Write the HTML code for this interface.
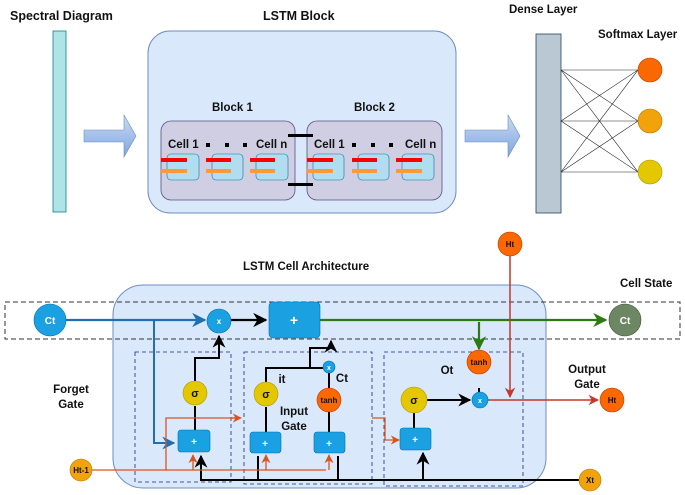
<!DOCTYPE html>
<html><head><style>body{margin:0;background:#fff}svg{display:block}text{font-family:"Liberation Sans",sans-serif;font-weight:bold;fill:#111}</style></head><body>
<svg width="685" height="495" viewBox="0 0 685 495" xmlns="http://www.w3.org/2000/svg">
<defs>
<linearGradient id="ag" x1="0" y1="0" x2="0" y2="1"><stop offset="0" stop-color="#c9daf2"/><stop offset="1" stop-color="#7ea6e0"/></linearGradient>
<marker id="mk" viewBox="0 0 10 10" refX="9" refY="5" markerWidth="6.5" markerHeight="6.5" orient="auto"><path d="M0,0L10,5L0,10L3,5z" fill="#000"/></marker>
<marker id="mb" viewBox="0 0 10 10" refX="9" refY="5" markerWidth="6.5" markerHeight="6.5" orient="auto"><path d="M0,0L10,5L0,10L3,5z" fill="#1f6fb2"/></marker>
<marker id="mr" viewBox="0 0 10 10" refX="9" refY="5" markerWidth="7" markerHeight="7" orient="auto"><path d="M0,0L10,5L0,10L3,5z" fill="#c0392b"/></marker>
<marker id="mo" viewBox="0 0 10 10" refX="9" refY="5" markerWidth="7" markerHeight="7" orient="auto"><path d="M0,0L10,5L0,10L3,5z" fill="#d9531e"/></marker>
<marker id="mg" viewBox="0 0 10 10" refX="9" refY="5" markerWidth="6.5" markerHeight="6.5" orient="auto"><path d="M0,0L10,5L0,10L3,5z" fill="#2d7a12"/></marker>
</defs>
<text x="10" y="20" font-size="12.5">Spectral Diagram</text>
<rect x="53" y="31" width="13" height="181" fill="#b0e3e6" stroke="#0e8088" stroke-width="0.8"/>
<path d="M84,130H124V115L136,136L124,157V142H84Z" fill="url(#ag)" stroke="#6c8ebf" stroke-width="0.6"/>
<text x="263" y="20" font-size="12.5">LSTM Block</text>
<rect x="148" y="31" width="308" height="182" rx="22" fill="#dae8fc" stroke="#6c8ebf"/>
<text x="212" y="111" font-size="11.5">Block 1</text>
<text x="354" y="111" font-size="11.5">Block 2</text>
<rect x="161" y="121" width="134" height="79" rx="10" fill="#d0cee2" stroke="#56517e" stroke-width="0.8"/>
<rect x="307" y="121" width="135" height="79" rx="10" fill="#d0cee2" stroke="#56517e" stroke-width="0.8"/>
<rect x="288" y="134" width="25" height="3" fill="#000"/>
<rect x="288" y="183" width="25" height="3" fill="#000"/>
<g fill="#b1ddf0" stroke="#10739e" stroke-width="0.6">
<rect x="167" y="154" width="32" height="26" rx="4"/><rect x="212" y="154" width="31" height="26" rx="4"/><rect x="256" y="154" width="32" height="26" rx="4"/>
<rect x="313" y="154" width="31" height="26" rx="4"/><rect x="358" y="154" width="31" height="26" rx="4"/><rect x="402" y="154" width="32" height="26" rx="4"/>
</g>
<g fill="#f00"><rect x="161" y="158" width="26" height="4"/><rect x="206" y="158" width="25" height="4"/><rect x="250" y="158" width="25" height="4"/><rect x="307" y="158" width="26" height="4"/><rect x="352" y="158" width="25" height="4"/><rect x="396" y="158" width="26" height="4"/></g>
<g fill="#ff9933"><rect x="161" y="169" width="26" height="4"/><rect x="206" y="169" width="25" height="4"/><rect x="250" y="169" width="25" height="4"/><rect x="307" y="169" width="26" height="4"/><rect x="352" y="169" width="25" height="4"/><rect x="396" y="169" width="26" height="4"/></g>
<g font-size="11.5"><text x="168" y="148">Cell 1</text><text x="256" y="148">Cell n</text><text x="314" y="148">Cell 1</text><text x="405" y="148">Cell n</text></g>
<g fill="#000"><rect x="206" y="143" width="4" height="4"/><rect x="225" y="143" width="4" height="4"/><rect x="243" y="143" width="4" height="4"/><rect x="352" y="143" width="4" height="4"/><rect x="371" y="143" width="4" height="4"/><rect x="389" y="143" width="4" height="4"/></g>
<path d="M465,130H508V115L520,136L508,157V142H465Z" fill="url(#ag)" stroke="#6c8ebf" stroke-width="0.6"/>
<text x="509" y="13" font-size="11.5">Dense Layer</text>
<text x="598" y="38" font-size="11.5">Softmax Layer</text>
<rect x="536" y="34" width="25" height="179" fill="#bac8d3" stroke="#23445d" stroke-width="0.8"/>
<g stroke="#222" stroke-width="0.6">
<line x1="561" y1="70" x2="638" y2="70"/><line x1="561" y1="70" x2="638" y2="121"/><line x1="561" y1="70" x2="638" y2="172"/>
<line x1="561" y1="121" x2="638" y2="70"/><line x1="561" y1="121" x2="638" y2="121"/><line x1="561" y1="121" x2="638" y2="172"/>
<line x1="561" y1="172" x2="638" y2="70"/><line x1="561" y1="172" x2="638" y2="121"/><line x1="561" y1="172" x2="638" y2="172"/>
</g>
<circle cx="650" cy="70" r="12" fill="#fa6800" stroke="#c73500" stroke-width="0.6"/>
<circle cx="650" cy="121" r="12" fill="#f0a30a" stroke="#bd7000" stroke-width="0.6"/>
<circle cx="650" cy="172" r="12" fill="#e3c800" stroke="#b09500" stroke-width="0.6"/>
<text x="243" y="270" font-size="11.5">LSTM Cell Architecture</text>
<text x="620" y="287" font-size="11.5">Cell State</text>
<rect x="113" y="285" width="433" height="203" rx="30" fill="#dae8fc" stroke="#6c8ebf"/>
<rect x="5" y="302" width="675" height="37" fill="none" stroke="#333" stroke-dasharray="5,3"/>
<g fill="none" stroke="#1a237e" stroke-dasharray="4,3" stroke-width="0.8">
<rect x="135" y="352" width="96" height="130"/><rect x="244" y="352" width="128" height="132"/><rect x="384" y="352" width="139" height="134"/>
</g>
<path d="M66,320H205" stroke="#1f6fb2" stroke-width="2.2" fill="none" marker-end="url(#mb)"/>
<path d="M154,321V443H174" stroke="#1f6fb2" stroke-width="2" fill="none" marker-end="url(#mb)"/>
<path d="M231,320H266" stroke="#000" stroke-width="2.2" marker-end="url(#mk)"/>
<path d="M195,381V358H219V336" stroke="#000" stroke-width="2" fill="none" marker-end="url(#mk)"/>
<path d="M266,382V368H323M310,368V348H331V341" stroke="#000" stroke-width="2" fill="none" marker-end="url(#mk)"/>
<path d="M329,388V373" stroke="#000" stroke-width="2"/>
<path d="M195,406V430M266,407V432M329,412V432M414,413V428" stroke="#000" stroke-width="2"/>
<path d="M579,480H201V456" stroke="#000" stroke-width="2" fill="none" marker-end="url(#mk)"/>
<path d="M258,480V456M338,480V456M423,480V453" stroke="#000" stroke-width="2" fill="none" marker-end="url(#mk)"/>
<path d="M427,400H470" stroke="#000" stroke-width="2" marker-end="url(#mk)"/>
<path d="M479,388V408" stroke="#000" stroke-width="2"/>
<path d="M320,320H606" stroke="#2d7a12" stroke-width="2.2" marker-end="url(#mg)"/>
<path d="M479,322V349" stroke="#2d7a12" stroke-width="2.2" marker-end="url(#mg)"/>
<path d="M510,256V397" stroke="#c0392b" stroke-width="1.5" marker-end="url(#mr)"/>
<path d="M488,400H598" stroke="#c0392b" stroke-width="1.5" marker-end="url(#mr)"/>
<path d="M92,470H326M166,470V418H240" stroke="#d9531e" stroke-width="1.3" fill="none"/>
<path d="M193,470V455" stroke="#d9531e" stroke-width="1.3" marker-end="url(#mo)"/>
<path d="M266,470V455" stroke="#d9531e" stroke-width="1.3" marker-end="url(#mo)"/>
<path d="M329,470V455" stroke="#d9531e" stroke-width="1.3" marker-end="url(#mo)"/>
<path d="M230,418H241" stroke="#d9531e" stroke-width="1.3" marker-end="url(#mo)"/>
<path d="M372,418H385V440H399" stroke="#d9531e" stroke-width="1.3" fill="none" marker-end="url(#mo)"/>
<g fill="#1ba1e2" stroke="#006eaf" stroke-width="0.6">
<circle cx="50" cy="320" r="16"/><circle cx="219" cy="321" r="12"/><circle cx="329" cy="367" r="6"/><circle cx="480" cy="400" r="8"/>
<rect x="269" y="302" width="51" height="36" rx="4"/>
<rect x="178" y="430" width="32" height="22" rx="3"/><rect x="250" y="432" width="31" height="21" rx="3"/><rect x="314" y="432" width="31" height="21" rx="3"/><rect x="400" y="428" width="31" height="22" rx="3"/>
</g>
<circle cx="625" cy="320" r="16" fill="#6d8764" stroke="#3a5431" stroke-width="0.6"/>
<g fill="#e3c800" stroke="#b09500" stroke-width="0.6"><circle cx="195" cy="393" r="12"/><circle cx="266" cy="394" r="12"/><circle cx="414" cy="400" r="13"/></g>
<g fill="#fa6800" stroke="#c73500" stroke-width="0.6"><circle cx="329" cy="400" r="12"/><circle cx="479" cy="362" r="12"/><circle cx="510" cy="244" r="12"/><circle cx="612" cy="400" r="12"/></g>
<g fill="#f0a30a" stroke="#bd7000" stroke-width="0.6"><circle cx="81" cy="470" r="11"/><circle cx="590" cy="480" r="11"/></g>
<g font-size="9" text-anchor="middle">
<text x="50" y="324" font-weight="normal" font-size="10" style="fill:#fff">Ct</text>
<text x="625" y="324" style="fill:#fff" font-weight="normal" font-size="10">Ct</text>
<text x="219" y="324" style="fill:#fff" font-size="8" font-weight="normal">x</text>
<text x="329" y="370" style="fill:#fff" font-size="7" font-weight="normal">x</text>
<text x="480" y="403" style="fill:#fff" font-size="7" font-weight="normal">x</text>
<text x="294" y="325" style="fill:#fff" font-size="14">+</text>
<text x="194" y="445" style="fill:#fff" font-size="10">+</text><text x="265" y="447" style="fill:#fff" font-size="10">+</text><text x="329" y="447" style="fill:#fff" font-size="10">+</text><text x="415" y="443" style="fill:#fff" font-size="10">+</text>
<text x="195" y="397" font-size="11">σ</text><text x="266" y="398" font-size="11">σ</text><text x="414" y="404" font-size="11">σ</text>
<text x="329" y="403" font-size="8">tanh</text><text x="479" y="365" font-size="8">tanh</text>
<text x="510" y="247" font-size="8">Ht</text><text x="612" y="403" font-size="8">Ht</text>
<text x="81" y="473" font-size="8">Ht-1</text><text x="590" y="483" font-size="8">Xt</text>
</g>
<g font-size="11.5" text-anchor="middle">
<text x="71" y="393">Forget</text><text x="71" y="408">Gate</text>
<text x="294" y="415">Input</text><text x="294" y="430">Gate</text>
<text x="587" y="373">Output</text><text x="587" y="388">Gate</text>
<text x="447" y="374">Ot</text><text x="282" y="383">it</text><text x="342" y="382">Ct</text>
</g>
</svg>
</body></html>
